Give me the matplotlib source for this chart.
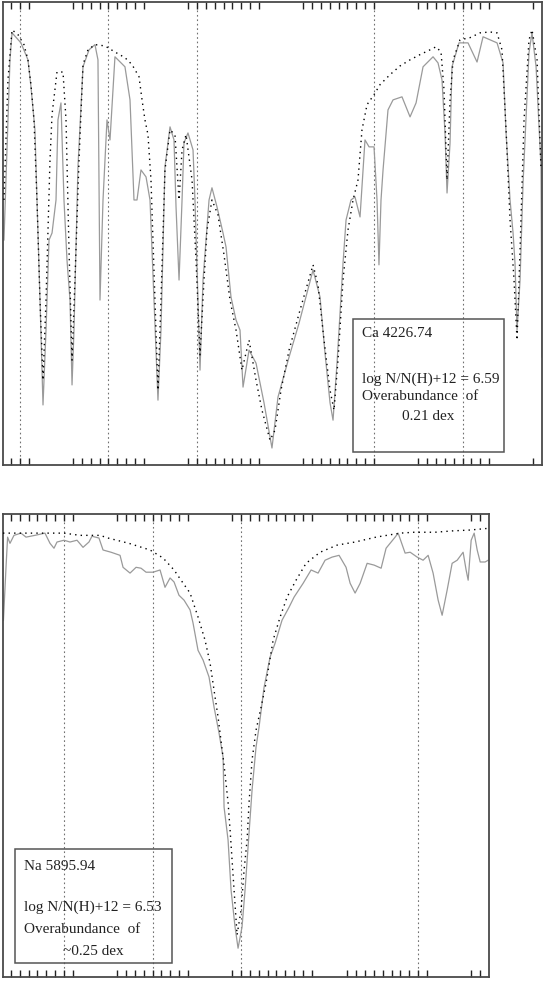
import numpy as np
import matplotlib
matplotlib.use("Agg")
import matplotlib.pyplot as plt
from matplotlib.patches import Rectangle

plt.rcParams['font.family'] = ['Liberation Serif', 'DejaVu Serif']

# ---- Ca 4226.74 panel (wavelength in A, normalised flux) ----
ca_obs_wl = [4223.819, 4223.853, 4223.887, 4223.910, 4224.011, 4224.090, 4224.124, 4224.169,
             4224.192, 4224.226, 4224.260, 4224.294, 4224.328, 4224.362, 4224.407, 4224.429,
             4224.463, 4224.497, 4224.531, 4224.565, 4224.588, 4224.610, 4224.655, 4224.712,
             4224.780, 4224.847, 4224.881, 4224.904, 4224.938, 4224.983, 4225.017, 4225.073,
             4225.186, 4225.243, 4225.288, 4225.322, 4225.367, 4225.424, 4225.469, 4225.514,
             4225.559, 4225.593, 4225.638, 4225.695, 4225.740, 4225.763, 4225.797, 4225.831,
             4225.853, 4225.898, 4225.955, 4225.977, 4226.011, 4226.034, 4226.068, 4226.136,
             4226.169, 4226.226, 4226.294, 4226.328, 4226.384, 4226.441, 4226.486, 4226.520,
             4226.588, 4226.667, 4226.757, 4226.847, 4226.915, 4227.040, 4227.153, 4227.311,
             4227.390, 4227.446, 4227.503, 4227.537, 4227.582, 4227.650, 4227.684, 4227.740,
             4227.785, 4227.842, 4227.898, 4227.944, 4228.000, 4228.034, 4228.056, 4228.079,
             4228.102, 4228.158, 4228.215, 4228.316, 4228.407, 4228.475, 4228.554, 4228.667,
             4228.723, 4228.768, 4228.802, 4228.825, 4228.859, 4228.881, 4228.960, 4229.062,
             4229.164, 4229.232, 4229.390, 4229.458, 4229.492, 4229.537, 4229.571, 4229.593,
             4229.616, 4229.650, 4229.684, 4229.751, 4229.785, 4229.831, 4229.887, 4229.898]
ca_obs_flux = [0.517, 0.724, 0.931, 0.993, 0.970, 0.931, 0.869, 0.770,
               0.609, 0.379, 0.138, 0.310, 0.517, 0.533, 0.609, 0.793,
               0.832, 0.609, 0.471, 0.379, 0.184, 0.310, 0.685, 0.915,
               0.954, 0.966, 0.931, 0.379, 0.609, 0.793, 0.747, 0.938,
               0.915, 0.839, 0.609, 0.609, 0.678, 0.662, 0.609, 0.379,
               0.149, 0.310, 0.685, 0.777, 0.747, 0.593, 0.425, 0.609,
               0.740, 0.763, 0.724, 0.609, 0.379, 0.218, 0.425, 0.609,
               0.637, 0.593, 0.533, 0.501, 0.386, 0.333, 0.310, 0.179,
               0.264, 0.234, 0.143, 0.039, 0.156, 0.248, 0.326, 0.448,
               0.386, 0.257, 0.143, 0.103, 0.234, 0.464, 0.563, 0.609,
               0.616, 0.570, 0.747, 0.731, 0.731, 0.609, 0.460, 0.609,
               0.678, 0.816, 0.839, 0.846, 0.800, 0.832, 0.915, 0.938,
               0.924, 0.885, 0.763, 0.625, 0.740, 0.915, 0.970, 0.970,
               0.926, 0.984, 0.970, 0.924, 0.763, 0.609, 0.533, 0.464,
               0.310, 0.425, 0.648, 0.947, 0.993, 0.915, 0.685, 0.248]

ca_syn_wl = [4223.819, 4223.864, 4223.910, 4223.977, 4224.045, 4224.090, 4224.124, 4224.158,
             4224.192, 4224.226, 4224.260, 4224.294, 4224.339, 4224.362, 4224.418, 4224.486,
             4224.520, 4224.554, 4224.588, 4224.621, 4224.667, 4224.712, 4224.768, 4224.847,
             4224.960, 4225.073, 4225.186, 4225.266, 4225.345, 4225.379, 4225.412, 4225.446,
             4225.480, 4225.525, 4225.559, 4225.593, 4225.638, 4225.695, 4225.751, 4225.797,
             4225.831, 4225.876, 4225.944, 4225.989, 4226.034, 4226.079, 4226.113, 4226.169,
             4226.237, 4226.305, 4226.373, 4226.441, 4226.508, 4226.588, 4226.667, 4226.734,
             4226.825, 4226.881, 4226.949, 4227.040, 4227.164, 4227.311, 4227.367, 4227.435,
             4227.503, 4227.548, 4227.593, 4227.650, 4227.706, 4227.763, 4227.819, 4227.864,
             4227.921, 4228.000, 4228.068, 4228.181, 4228.294, 4228.407, 4228.520, 4228.633,
             4228.701, 4228.757, 4228.791, 4228.825, 4228.859, 4228.893, 4228.972, 4229.085,
             4229.198, 4229.311, 4229.390, 4229.446, 4229.492, 4229.537, 4229.582, 4229.616,
             4229.650, 4229.695, 4229.751, 4229.785, 4229.842, 4229.887]
ca_syn_flux = [0.609, 0.885, 1.000, 0.989, 0.966, 0.931, 0.874, 0.793,
               0.609, 0.379, 0.195, 0.379, 0.701, 0.805, 0.903, 0.903,
               0.793, 0.494, 0.241, 0.425, 0.701, 0.920, 0.954, 0.966,
               0.963, 0.949, 0.936, 0.920, 0.892, 0.839, 0.793, 0.759,
               0.655, 0.379, 0.172, 0.379, 0.678, 0.770, 0.759, 0.609,
               0.724, 0.759, 0.655, 0.471, 0.253, 0.425, 0.540, 0.609,
               0.575, 0.483, 0.379, 0.310, 0.218, 0.287, 0.195, 0.126,
               0.057, 0.080, 0.172, 0.264, 0.356, 0.460, 0.414, 0.287,
               0.172, 0.126, 0.241, 0.425, 0.540, 0.609, 0.655, 0.770,
               0.828, 0.851, 0.874, 0.897, 0.917, 0.931, 0.943, 0.954,
               0.961, 0.949, 0.862, 0.655, 0.839, 0.931, 0.977, 0.982,
               0.993, 0.995, 0.993, 0.954, 0.770, 0.563, 0.425, 0.287,
               0.494, 0.793, 0.977, 1.000, 0.931, 0.678]

ca_grid = [4224, 4225, 4226, 4228, 4229]
ca_tick_runs = [(4223.9, 4224.1), (4224.6, 4225.4), (4225.9, 4226.7),
                (4227.2, 4228.0), (4228.5, 4229.3), (4229.8, 4229.8)]
ca_label = ["Ca 4226.74", "log N/N(H)+12 = 6.59", "Overabundance  of", "0.21 dex"]

# ---- Na 5895.94 panel ----
na_obs_wl = [5893.316, 5893.345, 5893.363, 5893.390, 5893.435, 5893.514, 5893.571, 5893.672,
             5893.785, 5893.842, 5893.887, 5893.921, 5894.000, 5894.068, 5894.147, 5894.215,
             5894.282, 5894.316, 5894.395, 5894.441, 5894.531, 5894.633, 5894.667, 5894.746,
             5894.814, 5894.870, 5894.927, 5895.006, 5895.085, 5895.141, 5895.198, 5895.243,
             5895.299, 5895.356, 5895.424, 5895.458, 5895.514, 5895.571, 5895.638, 5895.695,
             5895.751, 5895.797, 5895.808, 5895.853, 5895.887, 5895.932, 5895.966, 5896.011,
             5896.045, 5896.090, 5896.124, 5896.169, 5896.203, 5896.260, 5896.328, 5896.384,
             5896.463, 5896.542, 5896.599, 5896.701, 5896.791, 5896.870, 5896.949, 5897.028,
             5897.107, 5897.186, 5897.232, 5897.288, 5897.345, 5897.424, 5897.503, 5897.582,
             5897.638, 5897.740, 5897.774, 5897.853, 5897.910, 5897.989, 5898.056, 5898.113,
             5898.169, 5898.226, 5898.271, 5898.328, 5898.384, 5898.441, 5898.508, 5898.542,
             5898.565, 5898.599, 5898.633, 5898.667, 5898.701, 5898.757, 5898.791]
na_obs_flux = [0.804, 0.923, 0.991, 0.977, 0.995, 1.000, 0.991, 0.995,
               1.000, 0.977, 0.966, 0.980, 0.984, 0.980, 0.984, 0.968,
               0.980, 0.993, 0.989, 0.962, 0.957, 0.950, 0.923, 0.910,
               0.923, 0.921, 0.912, 0.912, 0.917, 0.878, 0.899, 0.890,
               0.860, 0.849, 0.827, 0.797, 0.736, 0.714, 0.676, 0.608,
               0.550, 0.495, 0.383, 0.309, 0.196, 0.113, 0.065, 0.113,
               0.196, 0.324, 0.421, 0.518, 0.563, 0.653, 0.721, 0.752,
               0.804, 0.833, 0.856, 0.887, 0.917, 0.910, 0.939, 0.946,
               0.950, 0.923, 0.887, 0.865, 0.887, 0.932, 0.928, 0.921,
               0.966, 0.991, 1.000, 0.955, 0.957, 0.946, 0.939, 0.950,
               0.910, 0.849, 0.815, 0.872, 0.932, 0.939, 0.957, 0.917,
               0.894, 0.984, 1.000, 0.962, 0.935, 0.935, 0.939]

na_syn_wl = [5893.311, 5893.616, 5894.000, 5894.181, 5894.407, 5894.497, 5894.734, 5894.972,
             5895.119, 5895.243, 5895.322, 5895.424, 5895.514, 5895.593, 5895.650, 5895.706,
             5895.740, 5895.808, 5895.853, 5895.876, 5895.921, 5895.955, 5896.000, 5896.034,
             5896.068, 5896.090, 5896.124, 5896.169, 5896.226, 5896.282, 5896.362, 5896.441,
             5896.520, 5896.621, 5896.734, 5896.893, 5897.085, 5897.288, 5897.525, 5897.797,
             5897.955, 5898.192, 5898.384, 5898.588, 5898.802]
na_syn_flux = [1.000, 1.000, 1.000, 0.995, 0.995, 0.989, 0.977, 0.962,
               0.944, 0.917, 0.894, 0.865, 0.811, 0.759, 0.707, 0.631,
               0.586, 0.477, 0.394, 0.331, 0.196, 0.095, 0.151, 0.241,
               0.309, 0.392, 0.489, 0.556, 0.608, 0.662, 0.759, 0.811,
               0.856, 0.894, 0.932, 0.957, 0.973, 0.980, 0.991, 1.000,
               1.002, 1.002, 1.005, 1.007, 1.011]

na_grid = [5894, 5895, 5896, 5898]
na_tick_runs = [(5893.4, 5894.1), (5894.6, 5895.4), (5895.9, 5896.8),
                (5897.2, 5898.1), (5898.6, 5898.7)]
na_label = ["Na 5895.94", "log N/N(H)+12 = 6.53", "Overabundance  of", "~0.25 dex"]

OBS_COLOR = '#9a9a9a'
FRAME = '#4a4a4a'


def tick_list(runs):
    ticks = []
    for a, b in runs:
        ticks += list(np.round(np.arange(a, b + 0.05, 0.1), 1))
    return ticks


def panel(ax, obs_wl, obs_flux, syn_wl, syn_flux, grid, runs, xlim, ylim):
    for g in grid:
        ax.axvline(g, color='#707070', lw=0.8, ls=(0, (1.5, 2.5)), zorder=1)
    ax.plot(obs_wl, obs_flux, color=OBS_COLOR, lw=0.9, zorder=2)
    ax.plot(syn_wl, syn_flux, color='black', lw=1.0, ls=(0, (1, 3)), zorder=3)
    ax.set_xlim(*xlim)
    ax.set_ylim(*ylim)
    ax.set_xticks(tick_list(runs))
    ax.set_yticks([])
    ax.tick_params(axis='x', direction='in', top=True, bottom=True, length=5,
                   width=1.0, color='#222222', labelbottom=False, labeltop=False)
    for s in ax.spines.values():
        s.set_color(FRAME)
        s.set_linewidth(1.3)


def label_box(ax, lines, box, xs, ys):
    ax.add_patch(Rectangle((box[0], box[1]), box[2], box[3], transform=ax.transAxes,
                           fill=False, edgecolor='#555555', lw=1.1, zorder=4))
    for txt, x, y in zip(lines, xs, ys):
        ax.text(x, y, txt, transform=ax.transAxes, fontsize=11, va='center',
                ha='left', color='#222222', zorder=5)


fig = plt.figure(figsize=(5.45, 9.81), dpi=100)

ax1 = fig.add_axes([0.0055, 0.526, 0.989, 0.472])
panel(ax1, ca_obs_wl, ca_obs_flux, ca_syn_wl, ca_syn_flux, ca_grid, ca_tick_runs,
      (4223.808, 4229.898), (0, 1.064))
label_box(ax1, ca_label, (0.649, 0.028, 0.280, 0.287),
          [0.666, 0.666, 0.666, 0.740], [0.285, 0.186, 0.147, 0.104])

ax2 = fig.add_axes([0.0055, 0.004, 0.892, 0.472])
panel(ax2, na_obs_wl, na_obs_flux, na_syn_wl, na_syn_flux, na_grid, na_tick_runs,
      (5893.311, 5898.802), (0, 1.043))
label_box(ax2, na_label, (0.024, 0.030, 0.324, 0.246),
          [0.043, 0.043, 0.043, 0.123], [0.238, 0.151, 0.102, 0.056])

fig.savefig('out.png', dpi=100)
